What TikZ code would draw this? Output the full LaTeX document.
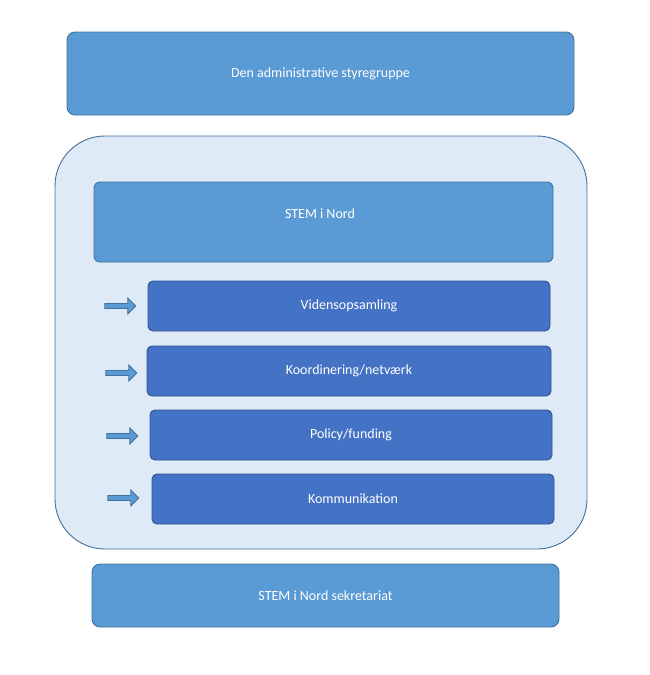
\documentclass[tikz,border=0pt]{standalone}
\usepackage{fontspec}
\setmainfont{Carlito}
\usetikzlibrary{shapes.arrows}
\definecolor{mid}{HTML}{5B9BD5}
\definecolor{midb}{HTML}{41719C}
\definecolor{dark}{HTML}{4472C4}
\definecolor{darkb}{HTML}{2F528F}
\definecolor{pale}{HTML}{DEEBF7}
\begin{document}
\begin{tikzpicture}[x=1pt,y=-1pt,
  midbox/.style={draw=midb,fill=mid,rounded corners=8pt,line width=0.9pt,text=white,font=\fontsize{14}{16}\selectfont},
  darkbox/.style={draw=darkb,fill=dark,rounded corners=5pt,line width=0.9pt,text=white,font=\fontsize{14}{16}\selectfont},
  arr/.style={single arrow,draw=midb,fill=mid,line width=0.8pt,minimum width=16pt,single arrow head extend=3pt,minimum height=31pt,inner sep=1pt}]
\useasboundingbox (0,0) rectangle (650,675);
\draw[draw=midb,fill=pale,line width=0.9pt,rounded corners=50pt] (55,136) rectangle (587,549);
\node[midbox,minimum width=507pt,minimum height=83pt] (top) at (320.5,73.5) {Den administrative styregruppe};
\node[midbox,minimum width=459pt,minimum height=80pt,rounded corners=6pt] (stem) at (323.5,222) {};
\node[text=white,font=\fontsize{14}{16}\selectfont] (stemt) at (320,214) {STEM i Nord};
\node[darkbox,minimum width=402pt,minimum height=50pt] (v) at (349,306) {Vidensopsamling};
\node[darkbox,minimum width=404pt,minimum height=50pt] (k) at (349,371) {Koordinering/netværk};
\node[darkbox,minimum width=402pt,minimum height=50pt] (p) at (351,435) {Policy/funding};
\node[darkbox,minimum width=402pt,minimum height=50pt] (c) at (353,499) {Kommunikation};
\node[midbox,minimum width=467pt,minimum height=63pt] (sek) at (325.5,595.5) {STEM i Nord sekretariat};
\node[arr] (a1) at (119,306) {};
\node[arr] (a2) at (120,373) {};
\node[arr] (a3) at (121,436) {};
\node[arr] (a4) at (122,498) {};
\end{tikzpicture}
\end{document}
